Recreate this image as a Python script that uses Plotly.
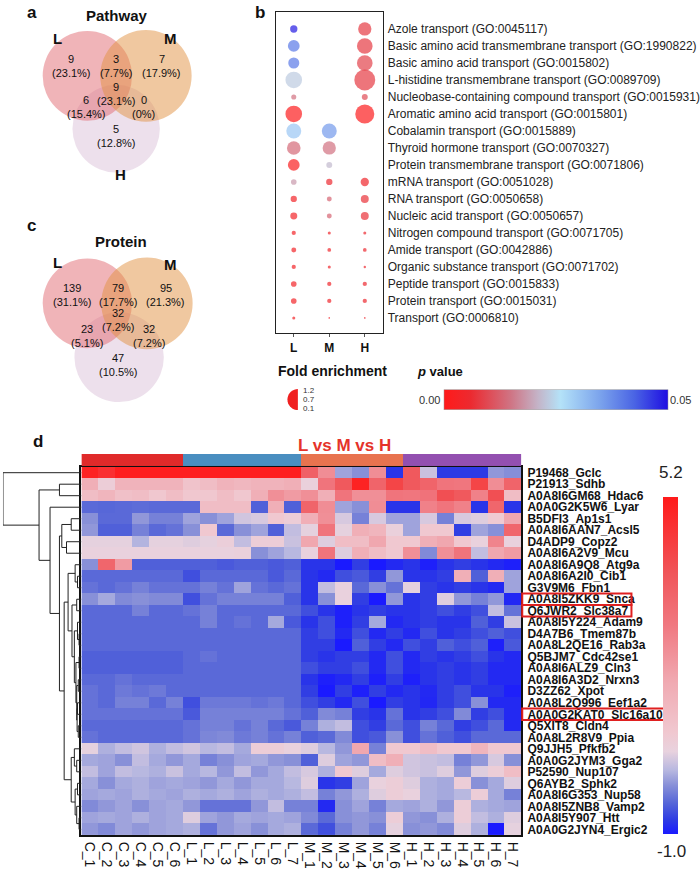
import math
import plotly.graph_objects as go

W, H = 700, 881


def px(x):
    return x / W


def py(y):
    return 1 - y / H


FONT = "Liberation Sans, Arial, sans-serif"

# ---------------- panels a / c : Venn diagrams ----------------
venn_sets = ["L", "M", "H"]
# region order: L only, L&M, M only, L&M&H, L&H, M&H, H only
pathway_counts = [9, 3, 7, 9, 6, 0, 5]
pathway_pct = ["23.1%", "7.7%", "17.9%", "23.1%", "15.4%", "0%", "12.8%"]
protein_counts = [139, 79, 95, 32, 23, 32, 47]
protein_pct = ["31.1%", "17.7%", "21.3%", "7.2%", "5.1%", "7.2%", "10.5%"]

# ---------------- panel b : GO enrichment dot plot ----------------
go_terms = [
    "Azole transport (GO:0045117)",
    "Basic amino acid transmembrane transport (GO:1990822)",
    "Basic amino acid transport (GO:0015802)",
    "L-histidine transmembrane transport (GO:0089709)",
    "Nucleobase-containing compound transport (GO:0015931)",
    "Aromatic amino acid transport (GO:0015801)",
    "Cobalamin transport (GO:0015889)",
    "Thyroid hormone transport (GO:0070327)",
    "Protein transmembrane transport (GO:0071806)",
    "mRNA transport (GO:0051028)",
    "RNA transport (GO:0050658)",
    "Nucleic acid transport (GO:0050657)",
    "Nitrogen compound transport (GO:0071705)",
    "Amide transport (GO:0042886)",
    "Organic substance transport (GO:0071702)",
    "Peptide transport (GO:0015833)",
    "Protein transport (GO:0015031)",
    "Transport (GO:0006810)",
]
groups_b = ["L", "M", "H"]
fold_L = [0.43, 0.69, 0.65, 0.98, 0.30, 0.98, 0.88, 0.80, 0.69, 0.33, 0.37, 0.41, 0.25, 0.29, 0.25, 0.33, 0.33, 0.18]
fold_M = [None, None, None, None, None, None, 0.88, 0.78, 0.35, 0.37, 0.29, 0.29, 0.18, 0.22, 0.18, 0.25, 0.25, 0.10]
fold_H = [0.78, 0.92, 0.92, 1.23, 0.35, 1.12, None, None, None, 0.49, 0.47, 0.47, 0.18, 0.22, 0.14, 0.25, 0.25, 0.10]
p_L = [0.049, 0.040, 0.040, 0.0235, 0.0145, 0.001, 0.030, 0.0135, 0.002, 0.0185, 0.004, 0.004, 0.004, 0.004, 0.004, 0.004, 0.004, 0.004]
p_M = [None, None, None, None, None, None, 0.036, 0.0145, 0.0215, 0.006, 0.013, 0.013, 0.005, 0.005, 0.005, 0.005, 0.005, 0.005]
p_H = [0.008, 0.008, 0.009, 0.008, 0.010, 0.001, None, None, None, 0.005, 0.007, 0.007, 0.006, 0.006, 0.006, 0.006, 0.006, 0.006]

# ---------------- panel d : heatmap ----------------
samples = ["C_%d" % i for i in range(1, 7)] + ["L_%d" % i for i in range(1, 8)] + \
          ["M_%d" % i for i in range(1, 7)] + ["H_%d" % i for i in range(1, 8)]
sample_group = [0] * 6 + [1] * 7 + [2] * 6 + [3] * 7
proteins = [
    "P19468_Gclc", "P21913_Sdhb", "A0A8I6GM68_Hdac6", "A0A0G2K5W6_Lyar", "B5DFI3_Ap1s1",
    "A0A8I6AAN7_Acsl5", "D4ADP9_Copz2", "A0A8I6A2V9_Mcu", "A0A8I6A9Q8_Atg9a", "A0A8I6A2I0_Cib1",
    "G3V9M6_Fbn1", "A0A8I5ZKK9_Snca", "Q6JWR2_Slc38a7", "A0A8I5Y224_Adam9", "D4A7B6_Tmem87b",
    "A0A8L2QE16_Rab3a", "Q5BJM7_Cdc42se1", "A0A8I6ALZ9_Cln3", "A0A8I6A3D2_Nrxn3", "D3ZZ62_Xpot",
    "A0A8L2Q996_Eef1a2", "A0A0G2KAT0_Slc16a10", "Q5XIT8_Cldn4", "A0A8L2R8V9_Ppia", "Q9JJH5_Pfkfb2",
    "A0A0G2JYM3_Gga2", "P52590_Nup107", "Q6AYB2_Sphk2", "A0A8I6G353_Nup58", "A0A8I5ZNB8_Vamp2",
    "A0A8I5Y907_Htt", "A0A0G2JYN4_Ergic2",
]
highlighted = ["A0A8I5ZKK9_Snca", "Q6JWR2_Slc38a7", "A0A0G2KAT0_Slc16a10"]

expr = [
    [5.0, 4.7, 5.1, 5.1, 5.1, 5.1, 5.1, 5.1, 5.1, 5.1, 5.1, 5.1, 5.1, 3.5, 2.4, 0.03, -0.1, 2.4, -0.8, 3.7, 0.3, -0.75, -0.75, -0.75, -0.05, -0.12],
    [1.65, 0.7, 1.5, 1.5, 1.5, 1.5, 1.0, 1.2, 1.5, 1.4, 1.5, 1.5, 1.65, 0.6, 2.95, 3.7, 5.0, 3.4, 4.2, 3.7, 3.4, 2.95, 2.9, 4.2, 2.4, 3.4],
    [1.2, 1.45, 1.1, 1.2, 0.9, 1.2, 0.9, 0.9, 1.2, 0.9, 1.65, 2.35, 2.1, 2.35, 1.65, 2.95, 2.35, 2.35, 2.95, 2.9, 3.0, 3.95, 3.7, 2.65, 3.95, 1.2],
    [-0.4, -0.42, -0.4, -0.38, -0.4, -0.4, -0.4, 1.2, 1.2, 1.2, -0.47, 1.65, -0.47, 3.4, 2.4, 0.03, -0.1, 2.4, -0.8, -0.8, 2.65, 2.95, 2.65, -0.8, 3.35, -0.8],
    [-0.1, -0.4, -0.4, -0.05, -0.22, -0.22, 0.03, -0.1, 0.03, 0.35, 0.4, 0.86, 0.7, 1.65, 2.35, 0.4, -0.22, 0.4, 0.03, 0.03, 0.4, -0.22, 0.4, 0.45, 0.8, 1.85],
    [-0.05, -0.47, -0.47, -0.22, -0.4, -0.33, -0.1, 0.86, -0.4, -0.1, 0.03, -0.47, 0.25, 0.5, 2.95, 0.5, 1.65, 1.45, 0.6, 0.03, 0.86, 0.86, -0.72, 0.03, -0.1, 3.35],
    [0.5, 0.5, 0.5, 0.15, 0.5, 0.5, 0.45, 0.5, 0.65, 0.25, 0.7, 0.7, 0.3, 1.85, 0.45, 1.2, 1.2, 1.85, 0.86, 0.86, 1.65, 1.85, 0.86, 0.55, 2.6, 0.55],
    [0.55, 0.55, 0.55, 0.55, 0.55, 0.55, 0.55, 0.55, 0.55, 0.6, -0.1, 0.03, 0.18, 0.55, 2.95, 0.45, 1.65, 1.2, 0.86, 2.35, -0.15, 2.35, 2.95, 0.25, 1.85, 2.1],
    [-0.1, 3.35, 2.1, -0.47, -0.47, -0.47, -0.47, -0.47, -0.52, -0.47, -0.47, -0.52, -0.47, -0.8, -0.8, -1.0, -0.72, -1.0, -0.88, -0.8, -0.95, -0.8, -0.72, -0.8, -0.88, -0.95],
    [-0.4, -0.4, -0.4, -0.4, -0.4, -0.4, -0.6, -0.4, -0.4, -0.4, -0.4, -0.52, -0.4, -0.8, -0.88, -0.6, -0.52, -0.72, -0.05, -0.8, -0.8, -0.72, 1.65, -0.47, 1.65, 0.03],
    [-0.33, -0.4, -0.33, -0.22, -0.33, -0.33, -0.33, -0.22, -0.33, 0.03, -0.33, -0.4, -0.33, -0.8, 0.25, 0.55, -0.4, -0.1, -0.33, 0.5, -0.72, -0.8, -0.72, -0.8, -0.88, 0.03],
    [-0.1, 0.07, -0.15, -0.1, -0.15, -0.15, -0.6, -0.33, -0.22, -0.22, -0.22, -0.22, -0.47, -0.8, -0.1, 0.55, -0.72, -1.0, -0.05, -0.8, -0.72, 0.45, -0.05, -0.22, -0.05, -0.9],
    [-0.4, -0.4, -0.4, -0.22, -0.4, -0.4, -0.33, -0.22, -0.4, -0.4, -0.4, -0.4, -0.4, -0.6, -0.8, -0.95, -0.8, -0.72, -0.8, -0.8, -0.72, -0.6, -0.72, -0.6, 0.25, -0.33],
    [-0.4, -0.4, -0.4, -0.4, -0.4, -0.4, -0.4, -0.22, -0.4, -0.33, -0.4, 0.07, -0.52, -0.8, -0.6, -0.95, -0.72, 0.07, -0.88, -0.8, -0.72, -0.8, -0.8, -0.47, -0.72, 0.3],
    [-0.4, -0.4, -0.4, -0.4, -0.4, -0.4, -0.4, -0.4, -0.4, -0.4, -0.4, -0.4, -0.4, -0.72, -0.6, -0.88, -0.6, -0.88, -0.72, -0.88, -0.6, -0.8, -0.72, -0.6, -0.47, -0.6],
    [-0.4, -0.4, -0.4, -0.4, -0.4, -0.4, -0.4, -0.4, -0.4, -0.4, -0.4, -0.4, -0.4, -0.72, -0.72, -1.0, -0.47, -0.72, -0.88, -0.6, -0.72, -0.47, -0.6, -0.47, -0.95, -0.52],
    [-0.47, -0.47, -0.47, -0.47, -0.47, -0.47, -0.4, -0.33, -0.4, -0.4, -0.4, -0.4, -0.4, -0.72, -0.8, -0.72, -0.72, -0.88, -0.6, -0.88, -0.72, -0.8, -0.72, -0.6, -0.8, -0.88],
    [-0.47, -0.47, -0.47, -0.47, -0.47, -0.47, -0.4, -0.4, -0.4, -0.4, -0.4, -0.4, -0.4, -0.6, -0.72, -0.72, -0.6, -0.88, -0.6, -0.88, -0.8, -0.72, -0.8, -0.72, -0.88, -0.88],
    [-0.4, -0.4, -0.33, -0.4, -0.4, -0.4, -0.4, -0.4, -0.4, -0.4, -0.4, -0.4, -0.4, -0.8, -0.95, -0.88, -0.72, -0.95, -0.72, -0.95, -0.8, -0.72, -0.8, -0.72, -0.88, -0.88],
    [-0.33, -0.4, -0.28, -0.33, -0.28, -0.4, -0.4, -0.4, -0.4, -0.4, -0.4, -0.4, -0.4, -0.72, -1.0, -0.72, -0.95, -0.72, -0.88, -0.8, -0.88, -0.72, -0.6, -0.8, -0.8, -0.95],
    [-0.33, -0.4, -0.22, -0.22, -0.4, -0.22, -0.6, -0.28, -0.28, -0.28, -0.33, -0.28, -0.4, -0.6, -0.72, -0.88, -0.6, -1.0, -0.72, -0.8, -0.9, -0.72, -0.6, -0.1, -0.88, -0.88],
    [-0.33, -0.33, -0.33, -0.33, -0.33, -0.33, -0.52, -0.22, -0.22, -0.22, -0.22, -0.22, -0.33, -0.47, -0.15, -0.22, -0.72, -0.8, -0.33, -0.8, -0.72, -0.6, -0.15, -0.72, -0.6, -0.88],
    [-0.4, -0.4, -0.4, -0.4, -0.4, -0.4, -0.33, -0.22, -0.22, -0.33, -0.22, -0.4, -0.52, -0.22, 0.12, 0.25, -0.6, -0.72, -0.4, -0.6, -0.22, -0.4, -0.72, -0.6, -0.4, -0.88],
    [-0.33, -0.4, -0.4, -0.4, -0.4, -0.4, -0.33, -0.18, -0.15, -0.28, -0.22, -0.33, -0.22, -0.47, -0.4, -0.15, -0.6, -0.52, -0.1, -0.6, -0.33, -0.47, -0.6, -0.4, -0.4, -0.4],
    [0.5, 0.12, 0.25, 0.35, 0.12, 0.25, 0.35, 0.18, 0.25, 0.07, 0.7, 0.7, 0.55, 0.45, 0.18, -0.05, 1.85, -0.22, 0.86, 0.86, 1.2, 0.86, 0.86, 1.45, 0.86, 0.86],
    [0.07, 0.03, -0.1, 0.25, 0.07, -0.05, 0.07, -0.22, -0.1, 0.03, 0.07, -0.05, -0.1, -0.47, 0.45, 0.03, -0.05, 1.2, 1.65, 0.35, 0.3, 0.25, -0.22, -0.05, 0.4, -0.1],
    [0.25, 0.03, 0.25, 0.18, 0.12, 0.3, 0.07, 0.18, -0.05, 0.25, -0.05, 0.07, 0.25, 0.4, 0.12, 0.86, 0.45, 0.07, 0.45, 0.35, 0.3, 0.45, -0.05, 0.45, 0.7, 1.2],
    [0.07, -0.1, 0.07, 0.12, 0.03, 0.07, 0.03, -0.05, 0.07, -0.05, 0.07, 0.07, 0.18, 0.45, -0.8, -0.72, 0.03, 0.55, 0.7, 0.45, 0.12, 0.07, 0.7, -0.1, 0.07, 0.45],
    [0.03, 0.07, 0.03, 0.12, 0.07, 0.03, 0.12, 0.07, 0.12, 0.03, 0.12, 0.07, 0.12, 0.25, -0.22, -0.05, 0.12, 0.45, 0.7, 0.55, 0.12, 0.07, 0.18, 0.7, 0.07, -0.22],
    [-0.15, -0.05, 0.03, -0.1, 0.03, 0.07, -0.05, -0.33, -0.33, -0.33, -0.05, 0.25, -0.22, -0.22, -0.88, -0.1, 0.03, -0.22, 0.07, 0.03, 0.12, -0.05, 0.7, 0.12, 0.07, 0.03],
    [0.03, 0.07, 0.03, 0.12, 0.03, 0.07, 0.45, 0.03, -0.05, 0.07, 0.03, 0.07, 0.03, -0.15, -0.4, -0.1, -0.05, -0.1, 0.7, -0.05, -0.1, 0.12, 0.7, 0.25, 0.12, 0.45],
    [-0.05, -0.15, 0.03, -0.05, 0.03, 0.07, 0.12, -0.33, -0.05, 0.03, -0.1, 0.07, 0.12, -0.4, -0.6, -0.22, -0.05, -0.22, 0.5, -0.1, -0.05, -0.15, 0.45, 0.12, -1.0, 0.5],
]

# row clustering tree: (merge height, left, right)
row_tree = (1.0, 0,
            (0.54, (0.28, 1, 2),
             (0.40, 3,
              (0.28, (0.25, (0.13, 4, 5), (0.19, 6, 7)),
               (0.22,
                (0.17, (0.08, 8, (0.05, 9, 10)),
                 (0.12, (0.06, 11, 12),
                  (0.09, (0.05, 13, (0.03, 14, 15)),
                   (0.07, (0.03, 16, 17),
                    (0.06, (0.04, 18, 19),
                     (0.055, (0.05, 20, 21), (0.04, 22, 23))))))),
                (0.13, (0.09, 24, (0.06, 25, 26)),
                 (0.08, (0.05, 27, 28), (0.06, 29, (0.03, 30, 31)))))))))

fig = go.Figure()

# ---- dot plot (b) ----
dx, dy, dsize, dcol = [], [], [], []
for gi, (folds, ps) in enumerate([(fold_L, p_L), (fold_M, p_M), (fold_H, p_H)]):
    for ri in range(len(go_terms)):
        if folds[ri] is not None:
            dx.append(gi)
            dy.append(ri)
            dsize.append(folds[ri])
            dcol.append(ps[ri])

p_scale = [[0, "#ff1a1a"], [0.12, "#ec2a30"], [0.3, "#cf7585"], [0.42, "#c4b4c8"],
           [0.52, "#b4e2f8"], [0.7, "#7aa2ec"], [0.85, "#4a64e4"], [1, "#1e0ee2"]]
fig.add_trace(go.Scatter(
    x=dx, y=dy, mode="markers", xaxis="x", yaxis="y",
    marker=dict(size=dsize, sizemode="diameter", sizeref=1 / 17, color=dcol,
                colorscale=p_scale, cmin=0, cmax=0.05, line=dict(width=0),
                colorbar=dict(orientation="h", x=px(560), xanchor="center", y=py(400),
                              yanchor="middle", len=226 / W, lenmode="fraction",
                              thickness=20, showticklabels=False, ticks="",
                              outlinewidth=0.5, outlinecolor="#999", xpad=0, ypad=0)),
    showlegend=False, hoverinfo="skip"))

# ---- heatmap (d) ----
heat_scale = [[0, "#1a1aff"], [0.04, "#2d3ae4"], [0.09, "#5464d8"], [0.145, "#8890d8"],
              [0.19, "#b8b8e0"], [0.245, "#e8d2de"], [0.3, "#f0c8d0"], [0.45, "#f0aab2"],
              [0.62, "#f07880"], [0.78, "#f05458"], [1, "#ff1a1a"]]
fig.add_trace(go.Heatmap(
    z=expr, x=samples, y=list(range(len(proteins))), xaxis="x2", yaxis="y2",
    colorscale=heat_scale, zmin=-1.0, zmax=5.2,
    colorbar=dict(x=px(668), xanchor="left", y=py(666), yanchor="middle",
                  len=338 / H, lenmode="fraction", thickness=15, xpad=0, ypad=0,
                  showticklabels=False, ticks="", outlinewidth=0),
    hoverinfo="skip"))

# group annotation bar
group_colors = ["#e02a2a", "#4a8ec0", "#e8734f", "#9350b0"]
fig.add_trace(go.Heatmap(
    z=[sample_group], x=samples, y=[0], xaxis="x3", yaxis="y3",
    colorscale=[[0, group_colors[0]], [0.25, group_colors[0]], [0.25, group_colors[1]],
                [0.5, group_colors[1]], [0.5, group_colors[2]], [0.75, group_colors[2]],
                [0.75, group_colors[3]], [1, group_colors[3]]],
    zmin=-0.5, zmax=3.5, showscale=False, hoverinfo="skip"))

# dendrogram
lx, ly = [], []


def walk(node):
    if isinstance(node, int):
        return float(node), 0.0
    h, left, right = node
    yl, hl = walk(left)
    yr, hr = walk(right)
    lx.extend([hl, h, h, hr, None])
    ly.extend([yl, yl, yr, yr, None])
    return (yl + yr) / 2, h


walk(row_tree)
fig.add_trace(go.Scatter(x=lx, y=ly, mode="lines", xaxis="x4", yaxis="y2",
                         line=dict(color="#222", width=1), showlegend=False,
                         hoverinfo="skip"))

# ---- axes ----
frame = dict(showline=True, mirror=True, linecolor="#222", linewidth=1.2,
             showgrid=False, zeroline=False)
fig.update_layout(
    width=W, height=H, margin=dict(l=0, r=0, t=0, b=0),
    paper_bgcolor="white", plot_bgcolor="white",
    font=dict(family=FONT, color="#111"),
    xaxis=dict(domain=[px(278), px(386)], anchor="y", range=[-0.5, 2.52],
               tickvals=[0, 1, 2], ticktext=groups_b, ticks="outside", ticklen=3,
               tickcolor="#555", tickfont=dict(size=12, weight="bold"), **frame),
    yaxis=dict(domain=[py(333), py(11)], anchor="x", range=[17.9, -1.0], side="right",
               tickvals=list(range(len(go_terms))), ticktext=go_terms, ticks="",
               ticklabelstandoff=1, tickfont=dict(size=12, color="#222"), **frame),
    xaxis2=dict(domain=[px(82), px(525)], anchor="y2", tickangle=90, ticks="",
                tickmode="array", tickvals=samples, ticktext=samples,
                tickfont=dict(size=14, color="#111"), ticklabelstandoff=2,
                showline=True, mirror=True, linecolor="#111", linewidth=1.5,
                showgrid=False, zeroline=False),
    yaxis2=dict(domain=[py(836), py(467)], anchor="x2", range=[len(proteins) - 0.5, -0.5],
                side="right", tickvals=list(range(len(proteins))), ticktext=proteins,
                ticks="", ticklabelstandoff=2,
                tickfont=dict(size=12, weight="bold", color="#111"),
                showline=True, mirror=True, linecolor="#111", linewidth=1.5,
                showgrid=False, zeroline=False),
    xaxis3=dict(domain=[px(82), px(525)], anchor="y3", matches="x2", visible=False),
    yaxis3=dict(domain=[py(466), py(454)], anchor="x3", visible=False),
    xaxis4=dict(domain=[px(3), px(82)], anchor="y2", range=[1.0, 0], visible=False),
)

# ---- Venn circles & labels ----
shapes = []
annotations = []


def circle(cx, cy, r, color):
    shapes.append(dict(type="circle", xref="paper", yref="paper",
                       x0=px(cx - r), x1=px(cx + r), y0=py(cy + r), y1=py(cy - r),
                       fillcolor=color, line=dict(width=0), layer="below"))


def text(x, y, s, size=11, bold=False, color="#111", xanchor="center"):
    annotations.append(dict(x=px(x), y=py(y), xref="paper", yref="paper", text=s,
                            showarrow=False, xanchor=xanchor, yanchor="middle",
                            font=dict(size=size, color=color, family=FONT,
                                      weight="bold" if bold else "normal")))


venn_fill = {"L": "rgba(225,105,113,0.5)", "M": "rgba(225,145,65,0.5)",
             "H": "rgba(219,193,217,0.5)"}
venn_layout = [
    # (title, title pos, letter, letter_y, circles, counts, pct, region label pos, set label pos)
    ("Pathway", (118, 15), "a", 12,
     {"L": (88, 75, 45), "M": (147, 75, 46), "H": (117, 128, 44)},
     pathway_counts, pathway_pct,
     [(72, 58), (117, 58), (163, 58), (117, 86), (87, 99), (145, 99), (117, 128)],
     [(58, 38), (172, 38), (121, 174)]),
    ("Protein", (122, 241), "c", 225,
     {"L": (88, 303, 45), "M": (148, 303, 46), "H": (120, 357, 45)},
     protein_counts, protein_pct,
     [(73, 288), (119, 288), (167, 288), (119, 313), (88, 329), (150, 329), (119, 358)],
     [(58, 262), (172, 264), None]),
]
for title, tpos, letter, ly_, centres, counts, pcts, pos, setpos in venn_layout:
    for s in ["H", "L", "M"]:
        cx, cy, r = centres[s]
        circle(cx, cy, r, venn_fill[s])
    text(tpos[0], tpos[1], title, size=15, bold=True)
    text(32, ly_, letter, size=17, bold=True)
    for (x, y), c, p in zip(pos, counts, pcts):
        text(x, y, str(c), size=11)
        text(x, y + 14, "(%s)" % p, size=11)
    for name, sp in zip(venn_sets, setpos):
        if sp is not None:
            text(sp[0], sp[1], name, size=15, bold=True)

# ---- panel b legend / labels ----
text(262, 12, "b", size=17, bold=True)
text(278, 371, "Fold enrichment", size=14, bold=True, xanchor="left")
text(418, 371, "<i>p</i> value", size=13, bold=True, xanchor="left")
text(433, 400, "0.00", size=11, color="#333")
text(685, 400, "0.05", size=11, color="#333")
# half-disc size key
cxh, cyh, rh = 300, 399.5, 10.5
pts = [(cxh + rh * math.cos(math.radians(a)), cyh + rh * math.sin(math.radians(a)))
       for a in range(90, 271, 10)]
path = "M %f,%f " % (px(pts[0][0]), py(pts[0][1])) + \
       " ".join("L %f,%f" % (px(a), py(b)) for a, b in pts[1:]) + " Z"
shapes.append(dict(type="path", xref="paper", yref="paper", path=path,
                   fillcolor="#f02020", line=dict(width=0)))
for lab, yy in zip(["1.2", "0.7", "0.1"], [390.5, 399.5, 408.5]):
    text(303, yy, lab, size=8, color="#333", xanchor="left")

# ---- panel d labels ----
text(38, 442, "d", size=17, bold=True)
text(347, 446, "L vs M vs H", size=17, bold=True, color="#e5332a")
text(676, 473, "5.2", size=17, color="#222")
text(676, 852, "-1.0", size=17, color="#222")

for name in highlighted:
    i = proteins.index(name)
    x1 = 669 if name.endswith("Slc16a10") else 636
    shapes.append(dict(type="rect", xref="paper", yref="y2", x0=px(526), x1=px(x1),
                       y0=i - 0.5, y1=i + 0.5, line=dict(color="#e02020", width=2),
                       fillcolor="rgba(0,0,0,0)", layer="above"))

fig.update_layout(shapes=shapes, annotations=annotations)
fig.write_html("out.html", config={"displayModeBar": False},
               post_script="document.body.style.margin='0';")
